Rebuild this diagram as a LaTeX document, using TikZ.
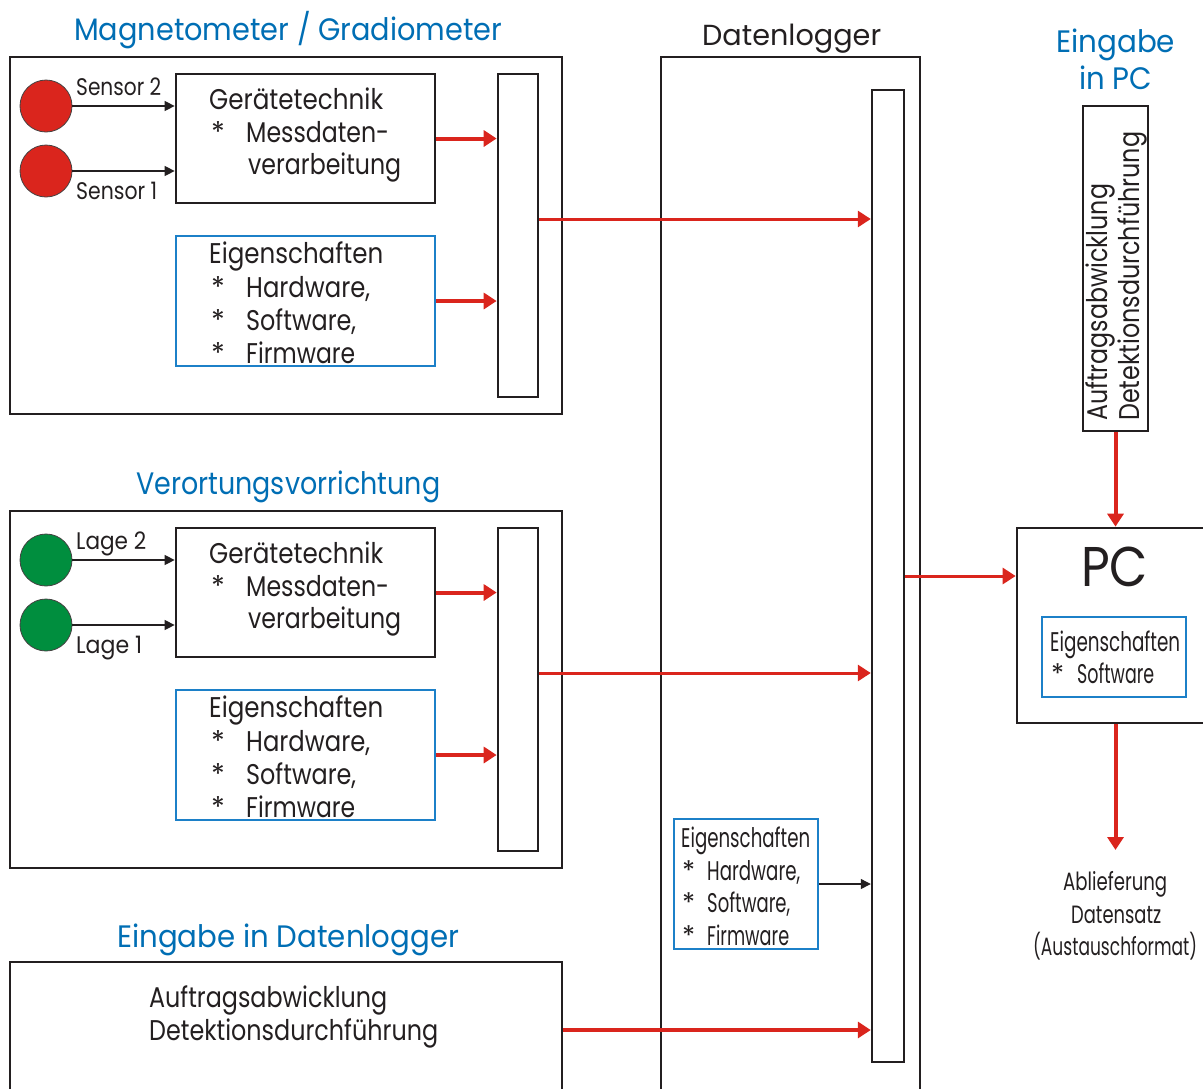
\documentclass[tikz,border=0pt]{standalone}
\usepackage{fontspec}
\setmainfont{Poppins}
\usepackage{graphicx}
\usetikzlibrary{arrows.meta}
\definecolor{tblue}{RGB}{0,110,180}
\definecolor{bblue}{RGB}{28,128,200}
\definecolor{rred}{RGB}{218,37,29}
\definecolor{ggreen}{RGB}{0,142,62}
\definecolor{kk}{RGB}{35,31,32}
\newcommand\fw[2]{\resizebox{#1pt}{\height}{#2}}
\newcommand\fsz[1]{\fontsize{#1}{#1}\selectfont}
\begin{document}
\begin{tikzpicture}[x=1pt,y=-1pt,
  box/.style={draw=kk, line width=2.7pt, inner sep=0pt},
  bbox/.style={draw=bblue, line width=2.6pt, inner sep=0pt},
  txt/.style={anchor=base west, inner sep=0pt, text=kk, font=\fsz{28.5}},
  ttl/.style={anchor=base west, inner sep=0pt, text=tblue, font=\fsz{31}},
  stxt/.style={anchor=base west, inner sep=0pt, text=kk, font=\fsz{24}},
  ctxt/.style={anchor=base west, inner sep=0pt, text=kk, font=\fsz{27}},
  redc/.style={circle, fill=rred, draw=kk!85, line width=0.8pt, minimum size=52pt, inner sep=0pt},
  grnc/.style={circle, fill=ggreen, draw=kk!85, line width=0.8pt, minimum size=52pt, inner sep=0pt},
  redarr/.style={draw=rred, line width=3pt, -{Triangle[length=13pt,width=16pt]}},
  redthick/.style={redarr, line width=4pt},
  blkarr/.style={draw=kk, line width=1.2pt, -{Triangle[length=10pt,width=10pt]}},
]
\useasboundingbox (0,0) rectangle (1203,1088);

% Datenlogger
\node[box, line width=2.4pt, minimum width=259pt, minimum height=1080pt] (dl) at (790.5,597) {};
\node[ttl, text=kk, font=\fsz{29}] (dlT) at (702,45) {\fw{179}{Datenlogger}};
\node[box, line width=2.4pt, minimum width=32pt, minimum height=972pt] (dlbar) at (888,576) {};
\node[bbox, minimum width=144pt, minimum height=130pt] (ei3) at (746,884) {};
\node[ctxt] (e3a) at (681,847) {\fw{129}{Eigenschaften}};
\node[ctxt] (e3s1) at (682,880) {*};
\node[ctxt] (e3s2) at (682,912) {*};
\node[ctxt] (e3s3) at (682,945) {*};
\node[ctxt] (e3b) at (707,880) {\fw{93}{Hardware,}};
\node[ctxt] (e3c) at (707,912) {\fw{83}{Software,}};
\node[ctxt] (e3d) at (707,945) {\fw{82}{Firmware}};
\draw[blkarr] (ei3.east) -- (dlbar.west |- ei3.east);

% Magnetometer and Verortung boxes
\node[ttl] (magT) at (74,40) {\fw{428}{Magnetometer / Gradiometer}};
\node[ttl] (verT) at (136,494) {\fw{304}{Verortungsvorrichtung}};
\node[redc] (c1a) at (46,106) {};
\node[redc] (c1b) at (46,171) {};
\node[grnc] (c2a) at (46,560) {};
\node[grnc] (c2b) at (46,625) {};
\node[stxt] (l1a) at (76,95) {\fw{85}{Sensor 2}};
\node[stxt] (l1b) at (76,199) {\fw{81}{Sensor 1}};
\node[stxt] (l2a) at (76,549) {\fw{70}{Lage 2}};
\node[stxt] (l2b) at (76,653) {\fw{66}{Lage 1}};
\foreach \o/\n in {0/1,454/2}{
  \node[box, minimum width=552pt, minimum height=357pt] (out\n) at (286,235.5+\o) {};
  \node[box, minimum width=259pt, minimum height=129pt] (ge\n) at (305.5,138.5+\o) {};
  \node[bbox, minimum width=259pt, minimum height=130pt] (ei\n) at (305.5,301+\o) {};
  \node[box, minimum width=40pt, minimum height=323pt] (bar\n) at (518,235.5+\o) {};
  \node[txt] (g\n-a) at (209,109+\o) {\fw{174}{Ger\"atetechnik}};
  \node[txt] (g\n-s) at (211,142+\o) {*};
  \node[txt] (g\n-b) at (246,142+\o) {\fw{143}{Messdaten-}};
  \node[txt] (g\n-c) at (248,174+\o) {\fw{153}{verarbeitung}};
  \node[txt] (e\n-a) at (209,263+\o) {\fw{174}{Eigenschaften}};
  \node[txt] (e\n-s1) at (211,297+\o) {*};
  \node[txt] (e\n-s2) at (211,330+\o) {*};
  \node[txt] (e\n-s3) at (211,363+\o) {*};
  \node[txt] (e\n-b) at (246,297+\o) {\fw{124}{Hardware,}};
  \node[txt] (e\n-c) at (246,330+\o) {\fw{110}{Software,}};
  \node[txt] (e\n-d) at (246,363+\o) {\fw{109}{Firmware}};
  \draw[redthick] (ge\n.east) -- (bar\n.west |- ge\n.east);
  \draw[redthick] (ei\n.east) -- (bar\n.west |- ei\n.east);
  \coordinate (o\n) at (538,219+\o);
  \draw[redarr] (bar\n.east |- o\n) -- (dlbar.west |- o\n);
}
\draw[blkarr] (c1a) -- (ge1.west |- c1a);
\draw[blkarr] (c1b) -- (ge1.west |- c1b);
\draw[blkarr] (c2a) -- (ge2.west |- c2a);
\draw[blkarr] (c2b) -- (ge2.west |- c2b);

% Eingabe in Datenlogger
\node[ttl] (einT) at (117,947) {\fw{342}{Eingabe in Datenlogger}};
\node[box, minimum width=552pt, minimum height=160pt] (ein) at (286,1042) {};
\node[txt] (ein-a) at (149,1007) {\fw{238}{Auftragsabwicklung}};
\node[txt] (ein-b) at (149,1040) {\fw{289}{Detektionsdurchf\"uhrung}};
\coordinate (o3) at (562,1030);
\draw[redthick] (ein.east |- o3) -- (dlbar.west |- o3);

% Eingabe in PC
\node[ttl] (pcT1) at (1056,52) {\fw{119}{Eingabe}};
\node[ttl] (pcT2) at (1079,89) {\fw{73}{in PC}};
\node[box, line width=2.4pt, minimum width=65pt, minimum height=325pt] (pcin) at (1115.5,268.5) {};
\node[txt, rotate=90] (r1) at (1107,421) {\fw{237}{Auftragsabwicklung}};
\node[txt, rotate=90] (r2) at (1139,421) {\fw{289}{Detektionsdurchf\"uhrung}};

% PC
\node[box, minimum width=213pt, minimum height=195pt] (pc) at (1123.5,625.5) {};
\node[txt, font=\fsz{56}] (pcl) at (1081,586) {\fw{67}{PC}};
\node[bbox, minimum width=144pt, minimum height=80pt] (ei4) at (1114,657) {};
\node[ctxt] (e4a) at (1050,651) {\fw{130}{Eigenschaften}};
\node[ctxt] (e4s) at (1051,683) {*};
\node[ctxt] (e4b) at (1077,683) {\fw{77}{Software}};
\draw[redthick] (pcin.south) -- (pc.north -| pcin.south);
\draw[redarr] (dlbar.east) -- (pc.west |- dlbar.east);
\coordinate (ab) at (1115.5,850);
\draw[redthick] (pc.south -| pcin.south) -- (ab);
\node[stxt, font=\fsz{25}] (ab1) at (1063,890) {\fw{104}{Ablieferung}};
\node[stxt, font=\fsz{25}] (ab2) at (1071,923) {\fw{90}{Datensatz}};
\node[stxt, font=\fsz{25}] (ab3) at (1033,955) {\fw{164}{(Austauschformat)}};
\end{tikzpicture}
\end{document}
